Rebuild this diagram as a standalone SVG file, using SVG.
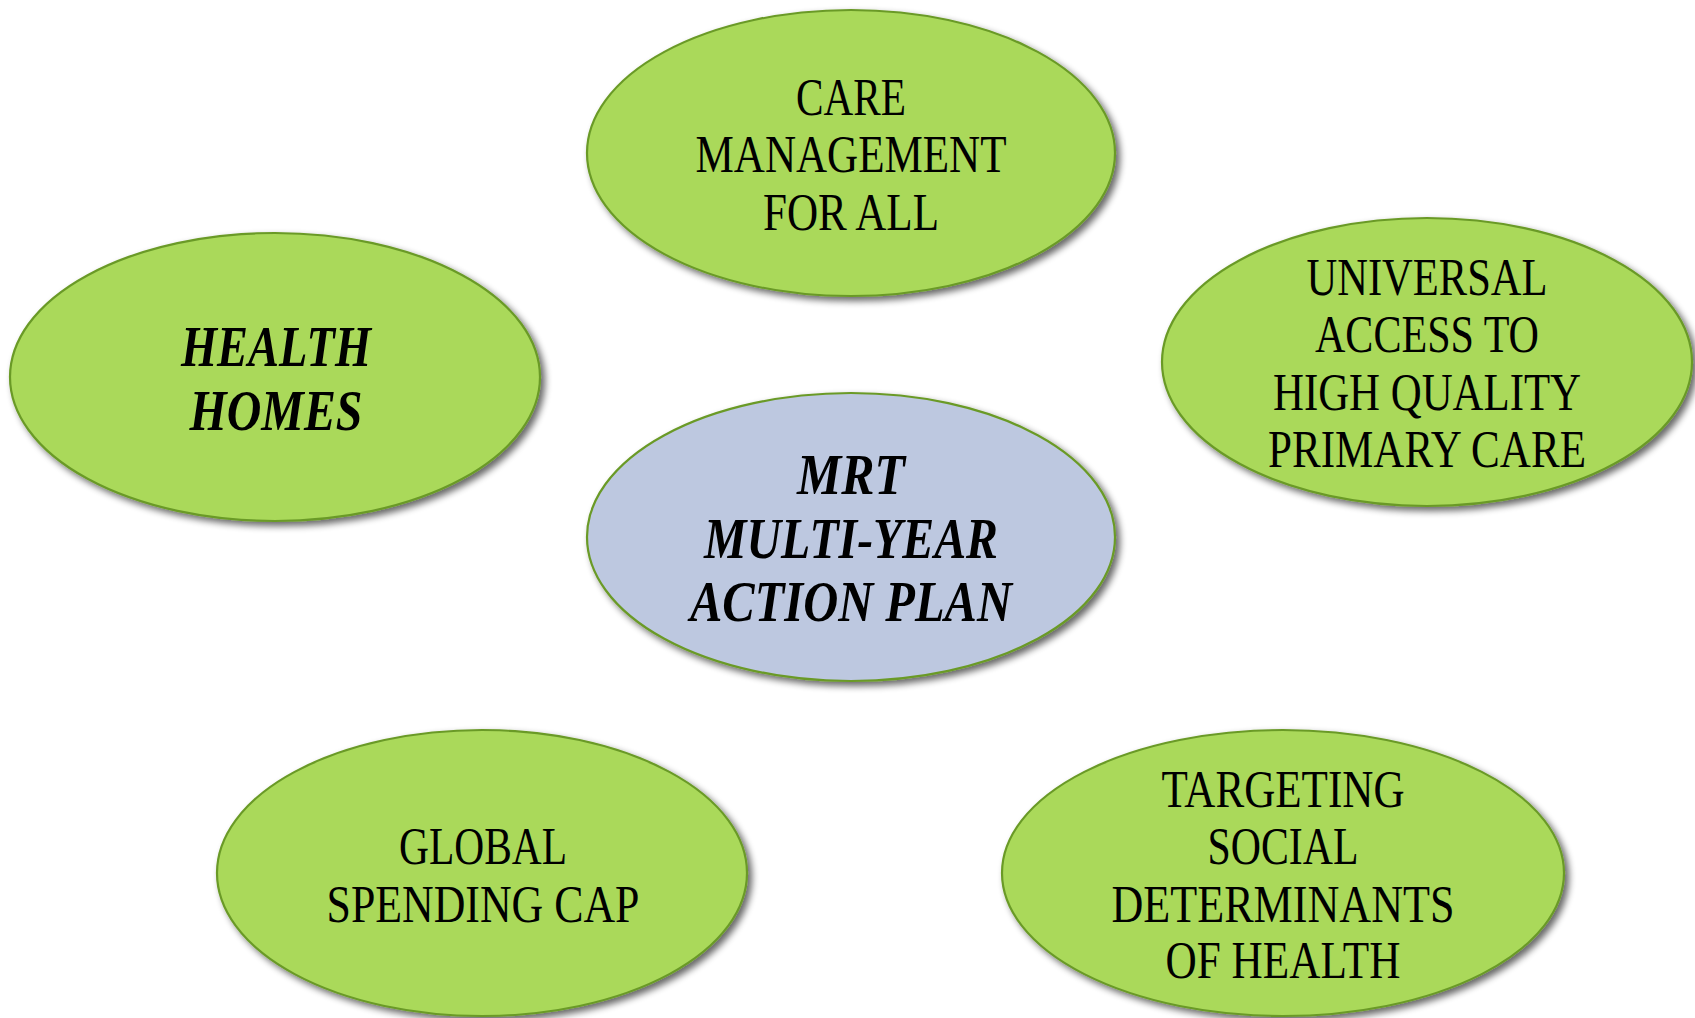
<svg xmlns="http://www.w3.org/2000/svg" width="1695" height="1018" viewBox="0 0 1695 1018">
<defs>
<filter id="sh" x="-10%" y="-10%" width="125%" height="130%">
<feGaussianBlur in="SourceAlpha" stdDeviation="3.5"/>
<feOffset dx="4" dy="4" result="b"/>
<feComponentTransfer><feFuncA type="linear" slope="0.6"/></feComponentTransfer>
<feMerge><feMergeNode/><feMergeNode in="SourceGraphic"/></feMerge>
</filter>
</defs>
<style>
.g{fill:#aad95a;stroke:#6a9a28;stroke-width:2.2;filter:url(#sh)}
.b{fill:#bdc8e0;stroke:#6a9a28;stroke-width:2.2;filter:url(#sh)}
.t{font-family:"Liberation Serif","Times New Roman",serif;font-size:52px;fill:#000;text-anchor:middle}
.bi{font-family:"Liberation Serif","Times New Roman",serif;font-size:57px;font-weight:bold;font-style:italic;fill:#000;text-anchor:middle}
</style>
<rect width="1695" height="1018" fill="#fff"/>
<g id="connectors"></g>
<g id="care">
<ellipse class="g" cx="851" cy="153" rx="264" ry="143"/>
<text class="t" x="851" y="115" textLength="110" lengthAdjust="spacingAndGlyphs">CARE</text>
<text class="t" x="851" y="172" textLength="311" lengthAdjust="spacingAndGlyphs">MANAGEMENT</text>
<text class="t" x="851" y="230" textLength="176" lengthAdjust="spacingAndGlyphs">FOR ALL</text>
</g>
<g id="health-homes">
<ellipse class="g" cx="275" cy="377" rx="265" ry="144"/>
<text class="bi" x="276" y="366" textLength="190" lengthAdjust="spacingAndGlyphs">HEALTH</text>
<text class="bi" x="276" y="430" textLength="173" lengthAdjust="spacingAndGlyphs">HOMES</text>
</g>
<g id="universal">
<ellipse class="g" cx="1427" cy="362" rx="265" ry="144"/>
<text class="t" x="1427" y="295" textLength="241" lengthAdjust="spacingAndGlyphs">UNIVERSAL</text>
<text class="t" x="1427" y="352" textLength="224" lengthAdjust="spacingAndGlyphs">ACCESS TO</text>
<text class="t" x="1427" y="410" textLength="308" lengthAdjust="spacingAndGlyphs">HIGH QUALITY</text>
<text class="t" x="1427" y="467" textLength="318" lengthAdjust="spacingAndGlyphs">PRIMARY CARE</text>
</g>
<g id="mrt">
<ellipse class="b" cx="851" cy="537" rx="264" ry="144"/>
<text class="bi" x="851" y="494" textLength="108" lengthAdjust="spacingAndGlyphs">MRT</text>
<text class="bi" x="851" y="558" textLength="294" lengthAdjust="spacingAndGlyphs">MULTI-YEAR</text>
<text class="bi" x="851" y="621" textLength="322" lengthAdjust="spacingAndGlyphs">ACTION PLAN</text>
</g>
<g id="global">
<ellipse class="g" cx="482" cy="873" rx="265" ry="143"/>
<text class="t" x="483" y="864" textLength="168" lengthAdjust="spacingAndGlyphs">GLOBAL</text>
<text class="t" x="483" y="922" textLength="313" lengthAdjust="spacingAndGlyphs">SPENDING CAP</text>
</g>
<g id="targeting">
<ellipse class="g" cx="1283" cy="873" rx="281" ry="143"/>
<text class="t" x="1283" y="807" textLength="243" lengthAdjust="spacingAndGlyphs">TARGETING</text>
<text class="t" x="1283" y="864" textLength="151" lengthAdjust="spacingAndGlyphs">SOCIAL</text>
<text class="t" x="1283" y="922" textLength="343" lengthAdjust="spacingAndGlyphs">DETERMINANTS</text>
<text class="t" x="1283" y="978" textLength="235" lengthAdjust="spacingAndGlyphs">OF HEALTH</text>
</g>
</svg>
